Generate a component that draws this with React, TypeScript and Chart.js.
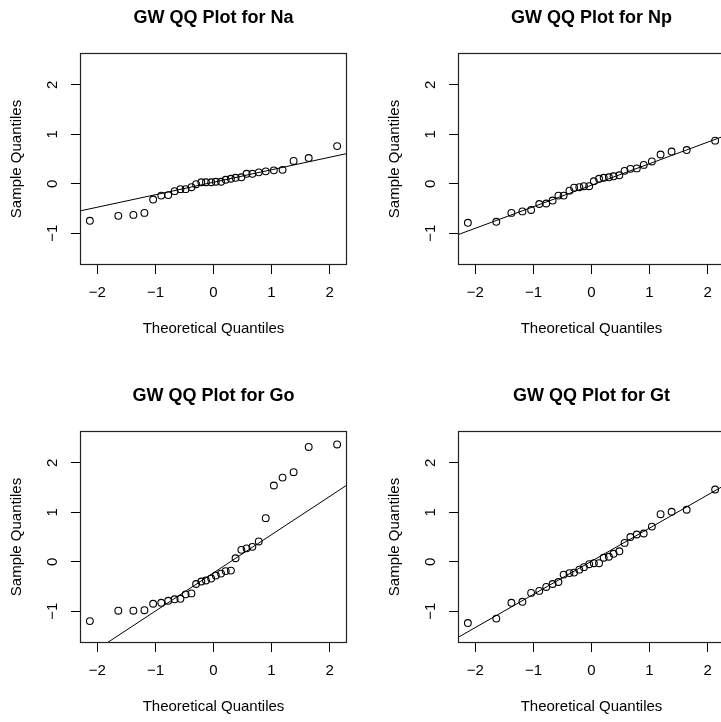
import React, { useEffect, useRef } from "react";
import { Chart, registerables } from "chart.js";

Chart.register(...registerables);

// Theoretical quantiles (x positions, shared by all panels)
const theoreticalQuantiles = [
  -2.13, -1.64, -1.38, -1.19, -1.04, -0.9, -0.78, -0.67, -0.57, -0.48,
  -0.38, -0.3, -0.21, -0.13, -0.04, 0.04, 0.13, 0.21, 0.3, 0.38,
  0.48, 0.57, 0.67, 0.78, 0.9, 1.04, 1.19, 1.38, 1.64, 2.13,
];

// Sample quantiles per panel
const naSample = [
  -0.75, -0.65, -0.63, -0.59, -0.32, -0.24, -0.23, -0.15, -0.11, -0.11,
  -0.07, -0.01, 0.03, 0.03, 0.03, 0.04, 0.04, 0.08, 0.1, 0.12,
  0.13, 0.2, 0.2, 0.23, 0.25, 0.27, 0.28, 0.46, 0.52, 0.76,
];
const npSample = [
  -0.79, -0.77, -0.59, -0.56, -0.53, -0.41, -0.4, -0.34, -0.24, -0.24,
  -0.14, -0.08, -0.07, -0.05, -0.05, 0.05, 0.1, 0.12, 0.13, 0.15,
  0.17, 0.26, 0.3, 0.31, 0.38, 0.45, 0.59, 0.65, 0.68, 0.87,
];
const goSample = [
  -1.2, -0.99, -0.99, -0.98, -0.85, -0.83, -0.79, -0.76, -0.75, -0.66,
  -0.64, -0.45, -0.4, -0.38, -0.34, -0.28, -0.24, -0.19, -0.18, 0.07,
  0.24, 0.27, 0.3, 0.41, 0.88, 1.54, 1.7, 1.81, 2.32, 2.37,
];
const gtSample = [
  -1.24, -1.15, -0.83, -0.81, -0.63, -0.59, -0.51, -0.45, -0.41, -0.26,
  -0.23, -0.22, -0.16, -0.11, -0.05, -0.03, -0.03, 0.08, 0.1, 0.16,
  0.21, 0.38, 0.5, 0.55, 0.57, 0.71, 0.96, 1.01, 1.05, 1.46,
];

// Reference (qqline) endpoints at the left / right plot edges
const lineX = [-2.3, 2.3];
const naLine = [-0.55, 0.61];
const npLine = [-1.03, 0.97];
const goLine = [-2.0, 1.55];
const gtLine = [-1.53, 1.55];

const panelTitles = [
  "GW QQ Plot for Na",
  "GW QQ Plot for Np",
  "GW QQ Plot for Go",
  "GW QQ Plot for Gt",
];
const xAxisTitle = "Theoretical Quantiles";
const yAxisTitle = "Sample Quantiles";

const FONT = '"Liberation Sans", Arial, Helvetica, sans-serif';
const PANEL = 378;

const fmt = (v: number) => (v < 0 ? "\u2212" + Math.abs(v) : String(v));

const rDecor = {
  id: "rDecor",
  afterDraw(chart: any, _args: any, opts: any) {
    const { ctx, chartArea } = chart;
    const { left, right, top, bottom } = chartArea;
    ctx.save();
    ctx.strokeStyle = "#222";
    ctx.lineWidth = 1.2;
    ctx.strokeRect(left + 0.5, top + 0.5, right - left - 1, bottom - top - 1);
    const ys = chart.scales.y;
    ctx.fillStyle = "#000";
    ctx.font = `15px ${FONT}`;
    ctx.textAlign = "center";
    ctx.textBaseline = "middle";
    ys.ticks.forEach((t: any) => {
      const py = ys.getPixelForValue(t.value);
      ctx.save();
      ctx.translate(left - 27, py);
      ctx.rotate(-Math.PI / 2);
      ctx.fillText(fmt(t.value), 0, 0);
      ctx.restore();
    });
    ctx.font = `bold 18px ${FONT}`;
    ctx.fillText(opts.title, (left + right) / 2, 17.75);
    ctx.restore();
  },
};

function QQPanel({ title, sample, line, x, y }: { title: string; sample: number[]; line: number[]; x: number; y: number }) {
  const ref = useRef<HTMLCanvasElement>(null);
  useEffect(() => {
    if (!ref.current) return;
    const pts = theoreticalQuantiles.map((q, i) => ({ x: q, y: sample[i] }));
    const ln = lineX.map((q, i) => ({ x: q, y: line[i] }));
    const chart = new Chart(ref.current, {
      type: "scatter",
      data: {
        datasets: [
          {
            data: ln,
            showLine: true,
            borderColor: "#000",
            borderWidth: 1,
            pointRadius: 0,
            fill: false,
          },
          {
            data: pts,
            showLine: false,
            pointStyle: "circle",
            pointRadius: 3.4,
            pointBorderWidth: 1.1,
            pointBorderColor: "#000",
            pointBackgroundColor: "rgba(0,0,0,0)",
            borderColor: "#000",
            backgroundColor: "rgba(0,0,0,0)",
          },
        ],
      },
      options: {
        animation: false,
        responsive: false,
        events: [],
        layout: { padding: { left: 0, top: 53, right: 31, bottom: 0 } },
        plugins: {
          legend: { display: false },
          tooltip: { enabled: false },
          rDecor: { title },
        } as any,
        scales: {
          x: {
            type: "linear",
            min: -2.3,
            max: 2.3,
            afterFit: (s: any) => {
              s.height = 113;
            },
            border: { display: false },
            grid: {
              display: true,
              drawOnChartArea: false,
              drawTicks: true,
              tickLength: 9,
              color: "#000",
              lineWidth: 1,
            },
            ticks: {
              stepSize: 1,
              includeBounds: false,
              padding: 9.5,
              color: "#000",
              font: { family: FONT, size: 15 },
              maxRotation: 0,
              autoSkip: false,
              callback: (v: any) => fmt(Number(v)),
            },
            title: {
              display: true,
              text: xAxisTitle,
              color: "#000",
              font: { family: FONT, size: 15 },
              padding: { top: 0, bottom: 40.2 },
            },
          },
          y: {
            type: "linear",
            min: -1.643,
            max: 2.642,
            afterFit: (s: any) => {
              s.width = 80;
            },
            border: { display: false },
            grid: {
              display: true,
              drawOnChartArea: false,
              drawTicks: true,
              tickLength: 9,
              color: "#000",
              lineWidth: 1,
            },
            ticks: {
              stepSize: 1,
              includeBounds: false,
              display: false,
            },
            title: {
              display: true,
              text: yAxisTitle,
              color: "#000",
              font: { family: FONT, size: 15 },
              padding: { top: 8.2, bottom: 0 },
            },
          },
        },
      },
      plugins: [rDecor],
    } as any);
    return () => chart.destroy();
  }, [title, sample, line]);
  return (
    <canvas
      ref={ref}
      width={PANEL}
      height={PANEL}
      style={{ position: "absolute", left: x, top: y, width: PANEL, height: PANEL }}
    />
  );
}

export default function App() {
  return (
    <div
      style={{
        position: "fixed",
        left: 0,
        top: 0,
        width: 721,
        height: 722,
        overflow: "hidden",
        background: "#fff",
      }}
    >
      <QQPanel title={panelTitles[0]} sample={naSample} line={naLine} x={0} y={0} />
      <QQPanel title={panelTitles[1]} sample={npSample} line={npLine} x={PANEL} y={0} />
      <QQPanel title={panelTitles[2]} sample={goSample} line={goLine} x={0} y={PANEL} />
      <QQPanel title={panelTitles[3]} sample={gtSample} line={gtLine} x={PANEL} y={PANEL} />
    </div>
  );
}
